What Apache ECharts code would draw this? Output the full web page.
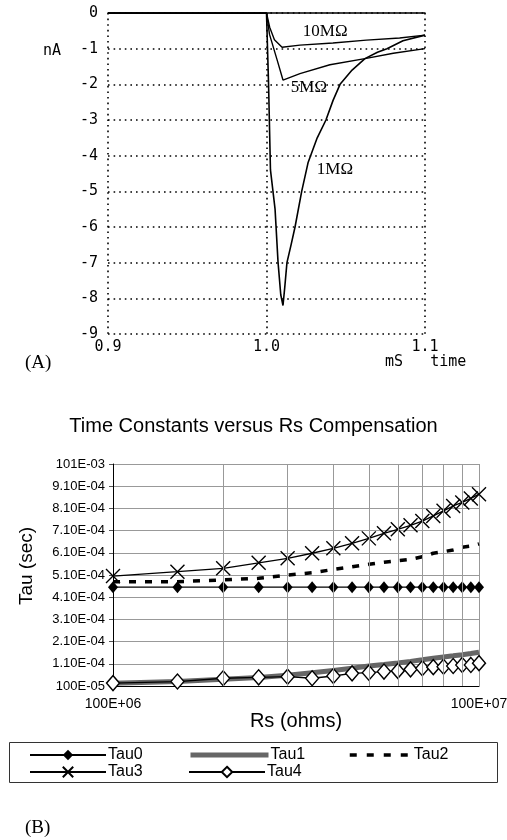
<!DOCTYPE html>
<html><head><meta charset="utf-8">
<script src="https://cdn.jsdelivr.net/npm/echarts@6/dist/echarts.min.js"></script>
<style>html,body{margin:0;padding:0;background:#fff}#c{width:507px;height:840px}</style>
</head><body><div id="c"></div>
<script>
// ---------- Panel A : current traces (time in mS, current in nA) ----------
const t1M  = [0.9, 1.0, 1.0013, 1.0025, 1.0054, 1.0073, 1.009, 1.0104, 1.0115, 1.0129, 1.0155, 1.018, 1.0222, 1.0262, 1.032, 1.0375, 1.042, 1.0464, 1.054, 1.0621, 1.07, 1.076, 1.0861, 1.1];
const i1M  = [0, 0, -2.0, -4.4, -5.5, -7.0, -7.9, -8.2, -7.7, -7.0, -6.5, -6.0, -5.0, -4.2, -3.5, -3.0, -2.45, -2.0, -1.6, -1.28, -1.1, -1.0, -0.78, -0.62];
const t5M  = [0.9, 1.0, 1.0019, 1.0066, 1.0104, 1.0211, 1.04, 1.0621, 1.08, 1.1];
const i5M  = [0, 0, -0.6, -1.3, -1.88, -1.70, -1.45, -1.28, -1.13, -1.0];
const t10M = [0.9, 1.0, 1.002, 1.005, 1.0098, 1.0211, 1.0419, 1.063, 1.084, 1.1];
const i10M = [0, 0, -0.4, -0.75, -0.96, -0.9, -0.84, -0.76, -0.7, -0.62];
const traceNames = ['1MΩ', '5MΩ', '10MΩ'];

// ---------- Panel B : time constants ----------
const rs = [1000000, 1500000, 2000000, 2500000, 3000000, 3500000, 4000000, 4500000, 5000000, 5500000,
            6000000, 6500000, 7000000, 7500000, 8000000, 8500000, 9000000, 9500000, 10000000];
const tau0 = [4.55e-4, 4.55e-4, 4.55e-4, 4.55e-4, 4.55e-4, 4.55e-4, 4.55e-4, 4.55e-4, 4.55e-4, 4.55e-4,
              4.55e-4, 4.55e-4, 4.55e-4, 4.55e-4, 4.55e-4, 4.55e-4, 4.55e-4, 4.55e-4, 4.55e-4];
const tau1 = [2.2e-5, 3.0e-5, 4.0e-5, 4.8e-5, 5.8e-5, 7.0e-5, 8.0e-5, 9.0e-5, 1.0e-4, 1.07e-4,
              1.14e-4, 1.21e-4, 1.28e-4, 1.35e-4, 1.41e-4, 1.46e-4, 1.51e-4, 1.56e-4, 1.62e-4];
const tau2 = [4.8e-4, 4.8e-4, 4.88e-4, 4.95e-4, 5.1e-4, 5.2e-4, 5.35e-4, 5.47e-4, 5.58e-4, 5.67e-4,
              5.74e-4, 5.8e-4, 5.92e-4, 6.08e-4, 6.15e-4, 6.23e-4, 6.35e-4, 6.4e-4, 6.5e-4];
const tau3 = [5.05e-4, 5.25e-4, 5.4e-4, 5.65e-4, 5.85e-4, 6.08e-4, 6.3e-4, 6.53e-4, 6.75e-4, 6.98e-4,
              7.16e-4, 7.34e-4, 7.53e-4, 7.76e-4, 7.99e-4, 8.21e-4, 8.37e-4, 8.55e-4, 8.74e-4];
const tau4 = [2.3e-5, 3.0e-5, 4.5e-5, 4.9e-5, 5.2e-5, 4.5e-5, 5.5e-5, 6.7e-5, 7.0e-5, 7.5e-5,
              7.8e-5, 8.5e-5, 9.0e-5, 9.5e-5, 9.7e-5, 1.0e-4, 1.05e-4, 1.05e-4, 1.13e-4];
const tauNames = ['Tau0', 'Tau1', 'Tau2', 'Tau3', 'Tau4'];
const rsGrid = [2000000, 3000000, 4000000, 5000000, 6000000, 7000000, 8000000, 9000000];
const yTickLabels = ['100E-05', '1.10E-04', '2.10E-04', '3.10E-04', '4.10E-04', '5.10E-04',
                     '6.10E-04', '7.10E-04', '8.10E-04', '9.10E-04', '101E-03'];
const xTickLabels = ['100E+06', '100E+07'];

const zip = (a, b) => a.map((v, i) => [v, b[i]]);
const MONO = 'DejaVu Sans Mono';
const SANS = 'Liberation Sans';
const SERIF = 'Liberation Serif';

const chart = echarts.init(document.getElementById('c'), null, {renderer: 'canvas'});

const traceLabel = (txt, coord) => ({
  symbol: 'circle', symbolSize: 0, silent: true,
  label: {show: true, position: 'inside', formatter: txt, color: '#000', fontFamily: SERIF, fontSize: 17},
  data: [{coord: coord}]
});

const tauSeries = (name, data, extra) => Object.assign({
  name: name, type: 'line', xAxisIndex: 2, yAxisIndex: 1, data: zip(rs, data),
  showAllSymbol: true, animation: false, z: 3
}, extra);

const legendBase = {
  itemHeight: 13, itemGap: 0, padding: 0, selectedMode: false,
  textStyle: {fontFamily: SANS, fontSize: 16, color: '#000', padding: [0, 0, 0, -3]}
};
const legends = [
  {data: ['Tau0'], left: 29, top: 747, itemWidth: 76},
  {data: ['Tau1'], left: 188, top: 747, itemWidth: 78, itemStyle: {opacity: 0},
   lineStyle: {width: 5, color: '#666'}},
  {data: ['Tau2'], left: 348, top: 747, itemWidth: 62, itemStyle: {opacity: 0},
   lineStyle: {width: 3.5, type: [7, 10], color: '#000'}},
  {data: ['Tau3'], left: 29, top: 764, itemWidth: 76},
  {data: ['Tau4'], left: 188, top: 764, itemWidth: 76}
].map(l => Object.assign({}, legendBase, l));

const option = {
  animation: false,
  backgroundColor: '#fff',
  title: {
    text: 'Time Constants versus Rs Compensation', left: 'center', top: 411,
    textStyle: {fontFamily: SANS, fontSize: 20, fontWeight: 'normal', color: '#000'}
  },
  grid: [
    {left: 108, top: 13, width: 317, height: 321, outerBoundsMode: 'none'},
    {left: 113, top: 464, width: 366, height: 222, outerBoundsMode: 'none'}
  ],
  xAxis: [
    {
      gridIndex: 0, type: 'value', min: 0.9, max: 1.1, interval: 0.1,
      axisLine: {show: false}, axisTick: {show: false},
      axisLabel: {margin: 6, fontFamily: MONO, fontSize: 15, color: '#000',
                  formatter: v => v.toFixed(1)},
      splitLine: {show: true, lineStyle: {color: '#000', width: 1.6, type: [1.6, 4]}}
    },
    {
      gridIndex: 0, type: 'value', min: 0.9, max: 1.1, position: 'top',
      axisLine: {show: true, lineStyle: {color: '#000', width: 1.5}},
      axisTick: {show: false}, axisLabel: {show: false}, splitLine: {show: false}
    },
    {
      gridIndex: 1, type: 'log', logBase: 10, min: 1000000, max: 10000000,
      name: 'Rs (ohms)', nameLocation: 'middle', nameGap: 21,
      nameTextStyle: {fontFamily: SANS, fontSize: 20, color: '#000'},
      axisLine: {show: true, lineStyle: {color: '#000', width: 1}},
      axisTick: {show: false},
      axisLabel: {margin: 11, fontFamily: SANS, fontSize: 14, color: '#000',
                  showMinLabel: true, showMaxLabel: true,
                  formatter: v => xTickLabels[Math.round(Math.log10(v)) - 6] || ''},
      splitLine: {show: true, lineStyle: {color: '#999', width: 1}}
    }
  ],
  yAxis: [
    {
      gridIndex: 0, type: 'value', min: -9, max: 0, interval: 1,
      axisLine: {show: false}, axisTick: {show: false},
      axisLabel: {margin: 10, fontFamily: MONO, fontSize: 15, color: '#000'},
      splitLine: {show: true, lineStyle: {color: '#000', width: 1.6, type: [1.6, 4]}}
    },
    {
      gridIndex: 1, type: 'value', min: 0.00001, max: 0.00101, interval: 0.0001,
      axisLine: {show: true, lineStyle: {color: '#000', width: 1}},
      axisTick: {show: true, length: 4, lineStyle: {color: '#555'}},
      axisLabel: {margin: 8, fontFamily: SANS, fontSize: 13, color: '#000',
                  formatter: v => yTickLabels[Math.round((v - 0.00001) / 0.0001)] || ''},
      splitLine: {show: true, lineStyle: {color: '#999', width: 1}}
    }
  ],
  legend: legends,
  series: [
    {
      name: traceNames[0], type: 'line', xAxisIndex: 0, yAxisIndex: 0, data: zip(t1M, i1M),
      symbol: 'none', lineStyle: {color: '#000', width: 1.6}, z: 3,
      markPoint: traceLabel('1MΩ', [1.0432, -4.40])
    },
    {
      name: traceNames[1], type: 'line', xAxisIndex: 0, yAxisIndex: 0, data: zip(t5M, i5M),
      symbol: 'none', lineStyle: {color: '#000', width: 1.4}, z: 3,
      markPoint: traceLabel('5MΩ', [1.0268, -2.09])
    },
    {
      name: traceNames[2], type: 'line', xAxisIndex: 0, yAxisIndex: 0, data: zip(t10M, i10M),
      symbol: 'none', lineStyle: {color: '#000', width: 1.4}, z: 3,
      markPoint: traceLabel('10MΩ', [1.037, -0.52])
    },
    tauSeries(tauNames[0], tau0, {
      symbol: 'diamond', symbolSize: [10, 12],
      itemStyle: {color: '#000'}, lineStyle: {color: '#000', width: 1.3},
      markLine: {
        silent: true, symbol: 'none', label: {show: false},
        lineStyle: {color: '#999', width: 1, type: 'solid'},
        data: rsGrid.map(v => ({xAxis: v}))
      }
    }),
    tauSeries(tauNames[1], tau1, {
      symbol: 'none', itemStyle: {color: '#666'},
      lineStyle: {color: '#666', width: 5}, z: 2
    }),
    tauSeries(tauNames[2], tau2, {
      symbol: 'none', itemStyle: {color: '#000'},
      lineStyle: {color: '#000', width: 3.5, type: [7, 9]}
    }),
    tauSeries(tauNames[3], tau3, {
      symbol: 'path://M0,0L10,10M0,10L10,0', symbolSize: 14,
      itemStyle: {color: '#000', borderColor: '#000', borderWidth: 1.4},
      lineStyle: {color: '#000', width: 1.3}
    }),
    tauSeries(tauNames[4], tau4, {
      symbol: 'diamond', symbolSize: [13, 15],
      itemStyle: {color: '#fff', borderColor: '#000', borderWidth: 1.4},
      lineStyle: {color: '#000', width: 1.3}, z: 4
    })
  ],
  graphic: [
    {type: 'text', left: 43, top: 44, style: {text: 'nA', font: '15px "DejaVu Sans Mono"', fill: '#000'}},
    {type: 'text', left: 385, top: 355, style: {text: 'mS   time', font: '15px "DejaVu Sans Mono"', fill: '#000'}},
    {type: 'text', left: 25, top: 354, style: {text: '(A)', font: '19px "Liberation Serif"', fill: '#000'}},
    {type: 'text', x: 27, y: 566, rotation: Math.PI / 2,
     style: {text: 'Tau (sec)', font: '19px "Liberation Sans"', fill: '#000', align: 'center', verticalAlign: 'middle'}},
    {type: 'rect', shape: {x: 9.5, y: 742.5, width: 488, height: 40},
     style: {fill: 'none', stroke: '#333', lineWidth: 1}},
    {type: 'text', left: 25, top: 819, style: {text: '(B)', font: '19px "Liberation Serif"', fill: '#000'}}
  ]
};
chart.setOption(option);
</script>
</body></html>
